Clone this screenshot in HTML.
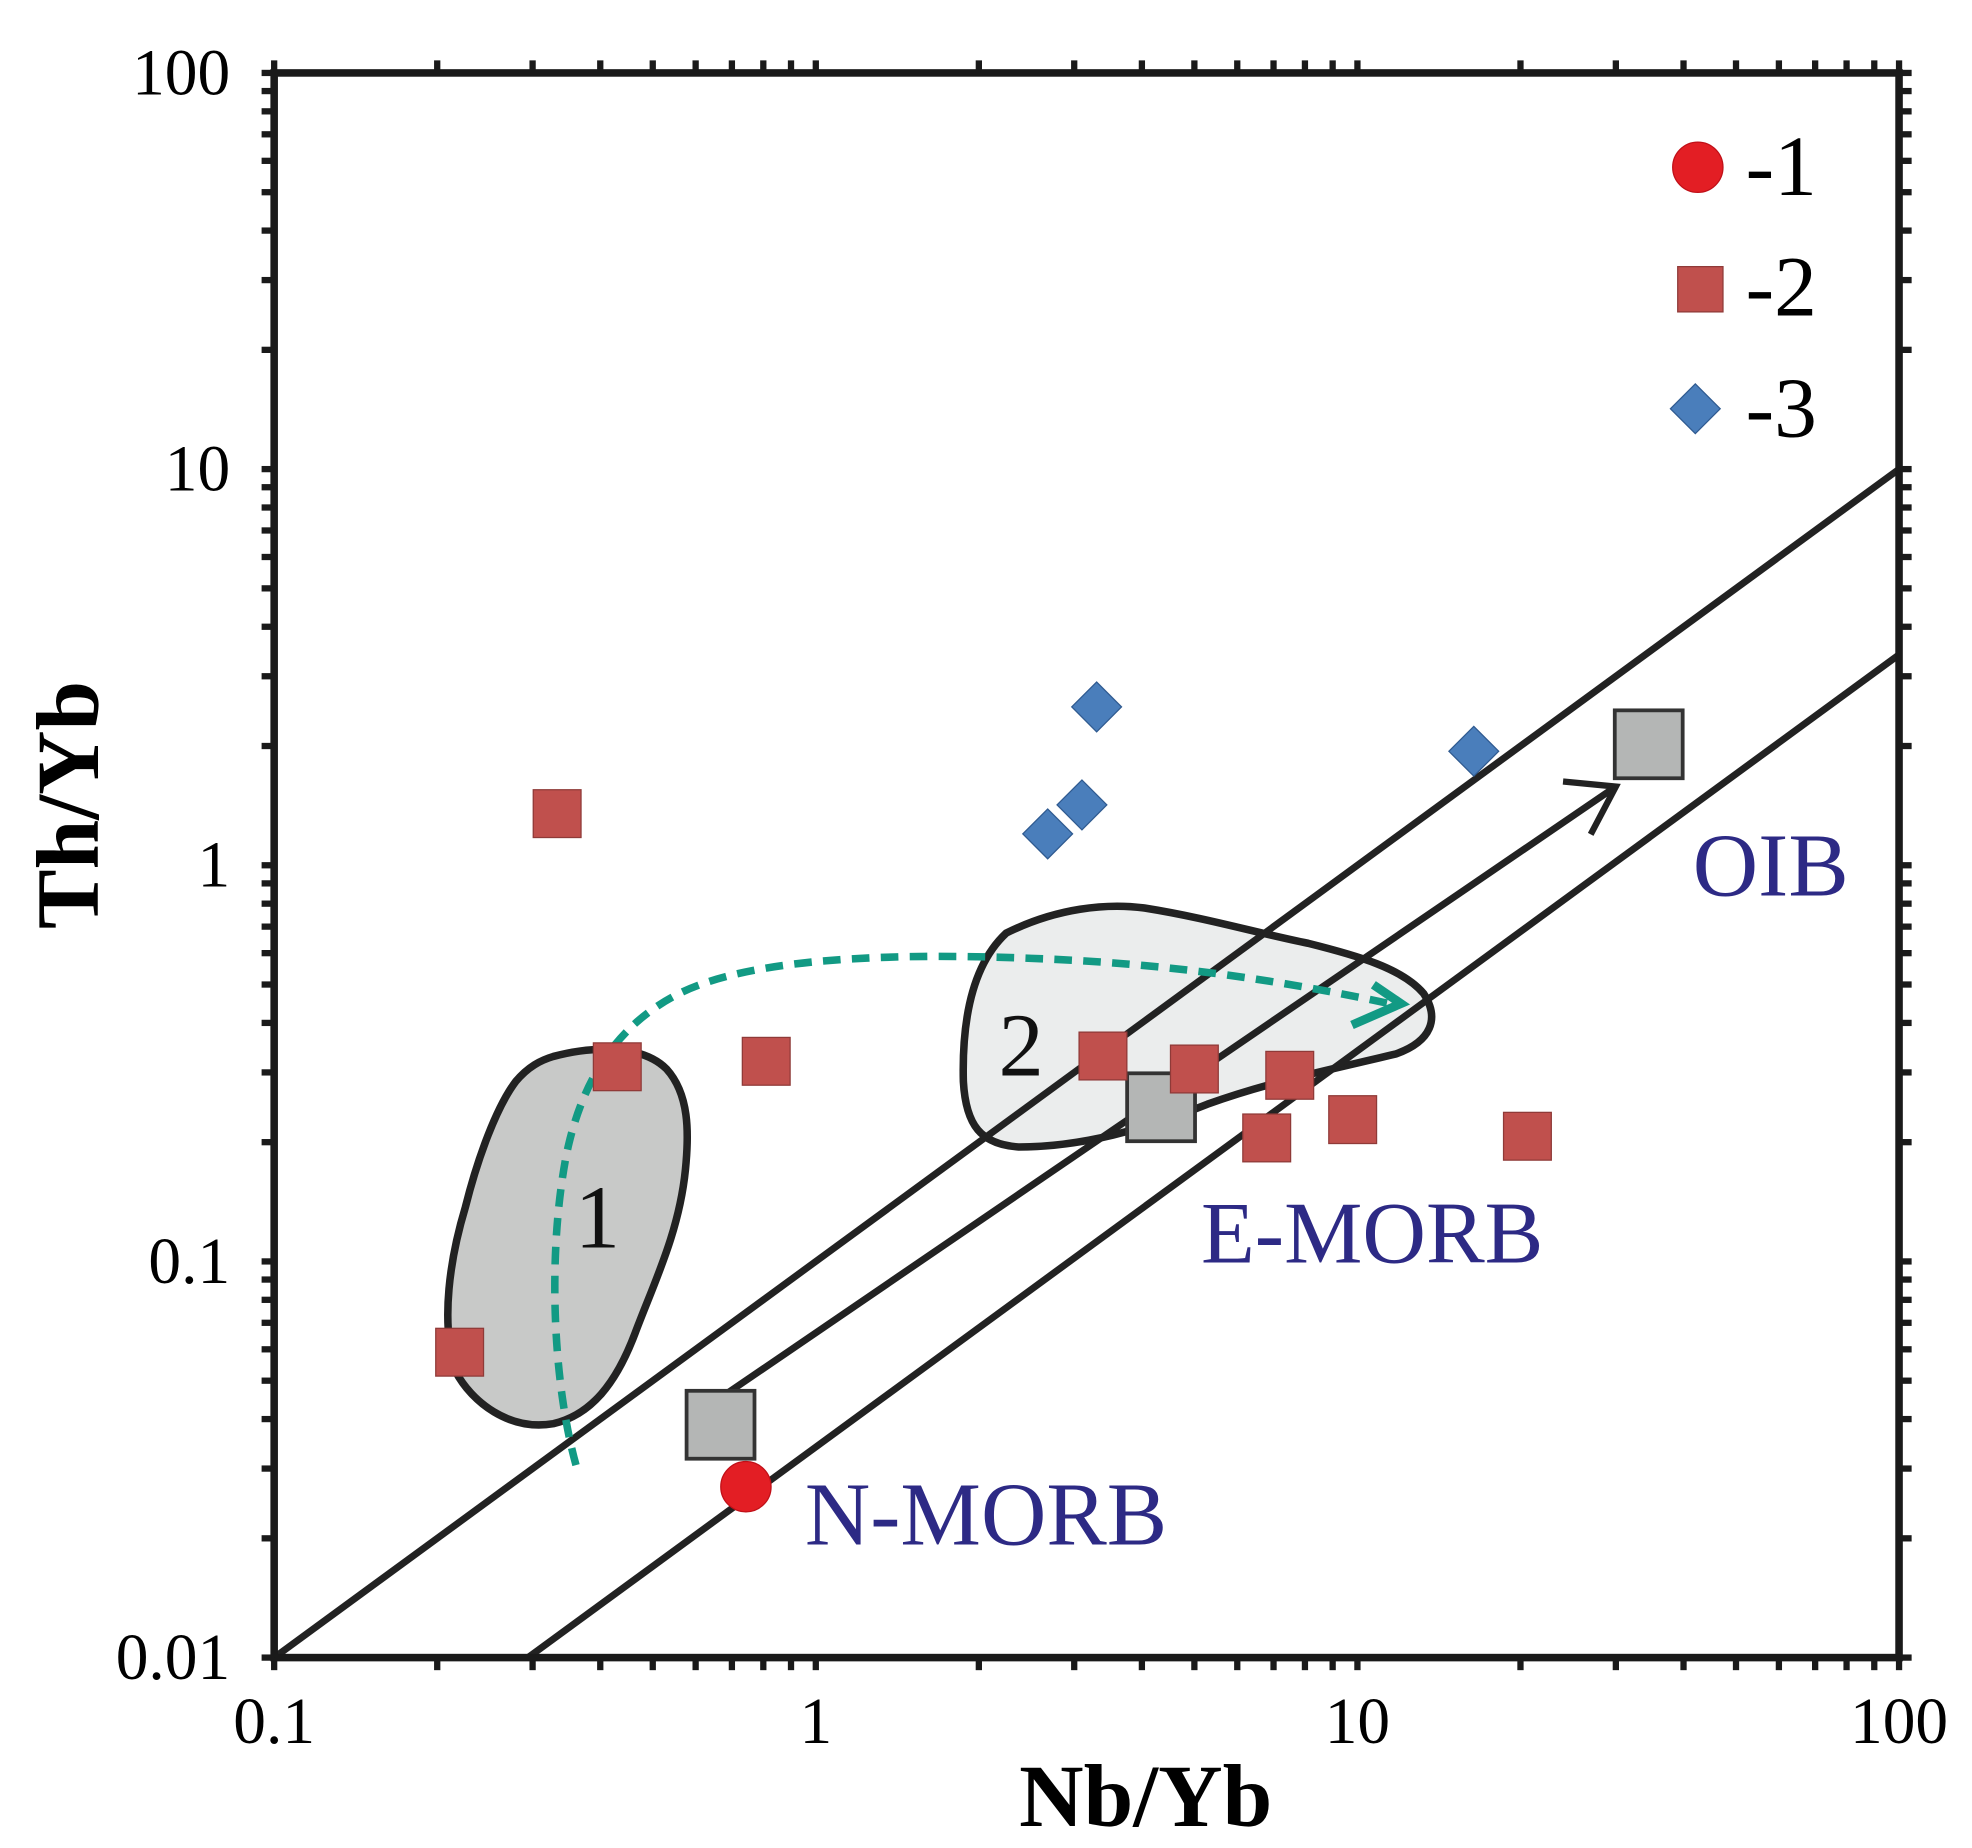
<!DOCTYPE html>
<html><head><meta charset="utf-8"><style>
html,body{margin:0;padding:0;background:#fff;}
svg{display:block;}
text{font-family:"Liberation Serif",serif;}
</style></head><body>
<svg id="chart" xmlns="http://www.w3.org/2000/svg" width="1972" height="1848" viewBox="0 0 1568 1469.4" preserveAspectRatio="none">
<g id="fields">
<path d="M440,840 C470,832 510,830 530,850 C548,870 548,900 545,930 C540,980 520,1020 505,1060 C490,1100 470,1125 440,1132 C405,1138 375,1115 362,1090 C350,1050 358,1000 370,960 C380,920 395,880 410,860 C420,848 430,843 440,840 Z" fill="#c8c9c8" stroke="#222" stroke-width="6"/>
<path d="M800,742 C840,722 880,718 910,722 C960,730 1000,742 1040,750 C1080,760 1115,770 1132,790 C1145,810 1138,828 1110,838 C1060,850 1010,860 960,878 C910,898 860,912 810,912 C780,910 768,895 766,860 C765,820 770,770 800,742 Z" fill="#ebeded" stroke="#222" stroke-width="6"/>
</g>
<g id="lines"></g>
<path d="M458,1165 C440,1100 435,1000 450,920 C462,860 490,815 540,790 C600,760 720,758 820,762 C930,766 1020,780 1105,798" fill="none" stroke="#129a84" stroke-width="6" stroke-dasharray="14,9"/>
<path d="M1092,783 L1114,798 L1075,815" fill="none" stroke="#129a84" stroke-width="7"/>
<text x="475" y="992" font-size="72" text-anchor="middle" fill="#111">1</text>
<text x="812" y="855" font-size="72" text-anchor="middle" fill="#111">2</text>
<text x="640" y="1228" font-size="72" fill="#2d2a85">N-MORB</text>
<text x="955" y="1004" font-size="70" fill="#2d2a85">E-MORB</text>
<text x="1346" y="712" font-size="72" fill="#2d2a85">OIB</text>
<g id="marks"></g>
<g id="axes"></g>
<g id="legend">
<circle cx="1350" cy="133" r="20" fill="#e31e24" stroke="#c01018" stroke-width="1"/>
<text x="1388" y="155" font-size="68">-1</text>
<rect x="1334" y="212" width="36" height="36" fill="#c0504d" stroke="#8f3a38" stroke-width="1"/>
<text x="1388" y="251" font-size="68">-2</text>
<rect x="1334" y="311" width="28" height="28" transform="rotate(45 1348 325)" fill="#4a7ebb" stroke="#2f5a90" stroke-width="1"/>
<text x="1388" y="347" font-size="68">-3</text>
</g>
<text x="911" y="1452" font-size="71" font-weight="bold" text-anchor="middle">Nb/Yb</text>
<text x="0" y="0" font-size="71" font-weight="bold" text-anchor="middle" transform="translate(78 640) rotate(-90)">Th/Yb</text>
</svg>
<script>
var circleX=[0.743];
var circleY=[0.027];
var squareX=[0.333,0.43,0.81,0.22,3.39,5.0,7.5,6.8,9.8,20.6];
var squareY=[1.35,0.31,0.32,0.059,0.33,0.306,0.295,0.205,0.228,0.207];
var diamondX=[3.3,3.1,2.68,16.4];
var diamondY=[2.51,1.42,1.2,1.94];
var refX=[0.667,4.34,34.5];
var refY=[0.0387,0.245,2.02];
var refNames=['n-morb','e-morb','oib'];
var lineRatios=[0.1,0.034];
var trendStart=[0.674,0.0457];
var trendEnd=[30,1.58];
var xTicks=[0.1,1,10,100];
var xTickLabels=['0.1','1','10','100'];
var yTicks=[0.01,0.1,1,10,100];
var yTickLabels=['0.01','0.1','1','10','100'];
var X0=218,X1=1510,Y0=1318,Y1=58;
function sx(v){return X0+(Math.log10(v)+1)/3*(X1-X0);}
function sy(v){return Y0-(Math.log10(v)+2)/4*(Y0-Y1);}
var NS='http://www.w3.org/2000/svg';
function mk(t,p,a){var e=document.createElementNS(NS,t);for(var k in a)e.setAttribute(k,a[k]);p.appendChild(e);return e;}
var L=document.getElementById('lines');
lineRatios.forEach(function(r,i){
  var xa=Math.max(0.1,0.01/r),xb=Math.min(100,100/r);
  var e=mk('line',L,{x1:sx(xa),y1:sy(xa*r),x2:sx(xb),y2:sy(xb*r),stroke:'#222','stroke-width':5.5});
  
  
});
var tl=mk('line',L,{x1:sx(trendStart[0]),y1:sy(trendStart[1]),x2:sx(trendEnd[0]),y2:sy(trendEnd[1]),stroke:'#222','stroke-width':5.5});


var ex=sx(trendEnd[0]),ey=sy(trendEnd[1]);
var ah=mk('path',L,{d:'M'+(ex-42)+','+(ey-4)+' L'+ex+','+ey+' L'+(ex-20)+','+(ey+38),fill:'none',stroke:'#222','stroke-width':5});


var M=document.getElementById('marks');
refX.forEach(function(v,i){
  var e=mk('rect',M,{x:sx(v)-27,y:sy(refY[i])-27,width:54,height:54,fill:'#b4b6b5',stroke:'#333','stroke-width':3});
  
  
});
squareX.forEach(function(v,i){
  var e=mk('rect',M,{x:sx(v)-19,y:sy(squareY[i])-19,width:38,height:38,fill:'#c0504d',stroke:'#8f3a38','stroke-width':1});
  
  
});
diamondX.forEach(function(v,i){
  var cx=sx(v),cy=sy(diamondY[i]);
  var e=mk('rect',M,{x:cx-14,y:cy-14,width:28,height:28,transform:'rotate(45 '+cx+' '+cy+')',fill:'#4a7ebb',stroke:'#2f5a90','stroke-width':1});
  
  
});
circleX.forEach(function(v,i){
  var e=mk('circle',M,{cx:sx(v),cy:sy(circleY[i]),r:20,fill:'#e31e24',stroke:'#c01018','stroke-width':1});
  
  
});
var A=document.getElementById('axes');
var fr=mk('rect',A,{x:X0,y:Y1,width:X1-X0,height:Y0-Y1,fill:'none',stroke:'#1a1a1a','stroke-width':6});


for(var d=-1;d<2;d++)for(var m=1;m<=10;m++){var v=m*Math.pow(10,d);if(m==10&&d<1)continue;var x=sx(v);
  mk('line',A,{x1:x,y1:Y0,x2:x,y2:Y0+10,stroke:'#1a1a1a','stroke-width':5});
  mk('line',A,{x1:x,y1:Y1,x2:x,y2:Y1-10,stroke:'#1a1a1a','stroke-width':5});}
for(var d=-2;d<2;d++)for(var m=1;m<=10;m++){var v=m*Math.pow(10,d);if(m==10&&d<1)continue;var y=sy(v);
  mk('line',A,{x1:X0,y1:y,x2:X0-10,y2:y,stroke:'#1a1a1a','stroke-width':5});
  mk('line',A,{x1:X1,y1:y,x2:X1+10,y2:y,stroke:'#1a1a1a','stroke-width':5});}
xTicks.forEach(function(v,i){
  var t=mk('text',A,{x:sx(v),y:1386,'font-size':52,'text-anchor':'middle'});t.textContent=xTickLabels[i];
  
  
});
yTicks.forEach(function(v,i){
  var t=mk('text',A,{x:183,y:sy(v)+17,'font-size':52,'text-anchor':'end'});t.textContent=yTickLabels[i];
  
  
});
</script>
</body></html>
